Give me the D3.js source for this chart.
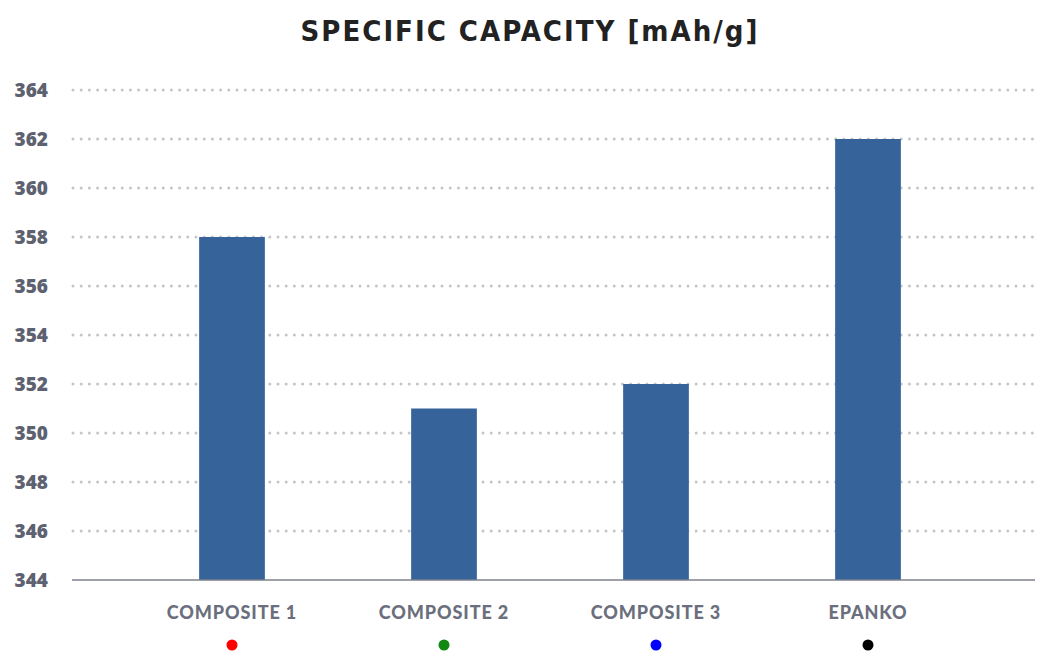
<!DOCTYPE html>
<html>
<head>
<meta charset="utf-8">
<script src="https://cdn.jsdelivr.net/npm/d3@7/dist/d3.min.js"></script>
<style>
  body { margin: 0; background: #fff; }
  .tick-label { font-family: "Open Sans", Lato, sans-serif; font-weight: 800; fill: #5d6170; }
  .cat-label { font-family: Lato, "Open Sans", sans-serif; font-weight: 900; fill: #6b6f7d; letter-spacing: 0.9px; }
</style>
</head>
<body>
<svg width="1038" height="651"></svg>
<script>
let categories = ["COMPOSITE 1", "COMPOSITE 2", "COMPOSITE 3", "EPANKO"];
let values = [358, 351, 352, 362];
let dotColors = ["#ff0000", "#118811", "#0000ff", "#000000"];
let yTicks = [344, 346, 348, 350, 352, 354, 356, 358, 360, 362, 364];

var svg = d3.select("svg"),
    width = +svg.attr("width"),
    height = +svg.attr("height");

let x = d3.scaleBand()
          .domain(categories)
          .range([126, 974])
          .paddingInner(0.69)
          .paddingOuter(0.345);

let y = d3.scaleLinear()
          .domain([344, 364])
          .range([580, 90]);

// title
svg.append("text")
    .attr("x", 530)
    .attr("y", 41)
    .attr("text-anchor", "middle")
    .style("font-family", "'DejaVu Sans Condensed', 'DejaVu Sans', sans-serif")
    .style("font-weight", "bold")
    .style("font-size", "29px")
    .style("letter-spacing", "2px")
    .attr("fill", "#222222")
    .text("SPECIFIC CAPACITY [mAh/g]");

// dotted grid
svg.append("g")
    .selectAll("line")
    .data(yTicks.slice(1))
    .enter().append("line")
    .attr("x1", 73)
    .attr("x2", 1035)
    .attr("y1", d => y(d))
    .attr("y2", d => y(d))
    .attr("stroke", "#c4c5cb")
    .attr("stroke-width", 3)
    .attr("stroke-linecap", "round")
    .attr("stroke-dasharray", "0 8.2");

// y labels
svg.append("g")
    .selectAll("text")
    .data(yTicks)
    .enter().append("text")
    .attr("class", "tick-label")
    .attr("x", 48)
    .attr("y", d => y(d) + 7)
    .attr("text-anchor", "end")
    .style("font-size", "19px")
    .text(d => d);

// bars
svg.append("g")
    .selectAll("rect")
    .data(values)
    .enter().append("rect")
    .attr("x", (d, i) => x(categories[i]))
    .attr("y", d => y(d))
    .attr("width", x.bandwidth())
    .attr("height", d => y(344) - y(d))
    .attr("fill", "#37639b");

// baseline
svg.append("line")
    .attr("x1", 72)
    .attr("x2", 1035)
    .attr("y1", y(344))
    .attr("y2", y(344))
    .attr("stroke", "#7d818d")
    .attr("stroke-width", 1.5);

// category labels
svg.append("g")
    .selectAll("text")
    .data(categories)
    .enter().append("text")
    .attr("class", "cat-label")
    .attr("x", d => x(d) + x.bandwidth() / 2)
    .attr("y", 619)
    .attr("text-anchor", "middle")
    .style("font-size", "18px")
    .text(d => d);

// colour dots
svg.append("g")
    .selectAll("circle")
    .data(categories)
    .enter().append("circle")
    .attr("cx", d => x(d) + x.bandwidth() / 2)
    .attr("cy", 645)
    .attr("r", 5.5)
    .attr("fill", (d, i) => dotColors[i]);
</script>
</body>
</html>
